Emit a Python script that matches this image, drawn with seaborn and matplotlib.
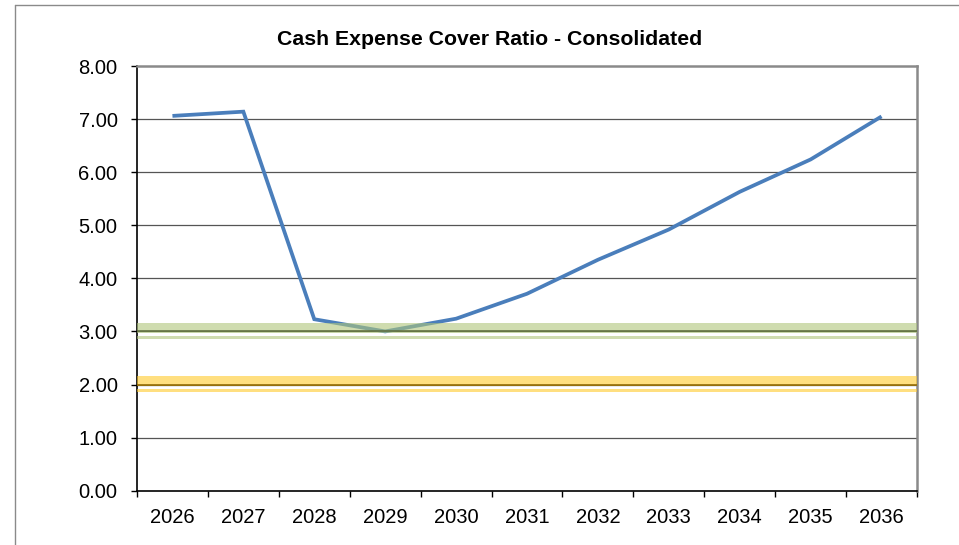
import matplotlib
matplotlib.use("Agg")
import matplotlib.pyplot as plt
from matplotlib.lines import Line2D
from matplotlib.ticker import FixedLocator, NullFormatter
import seaborn as sns
import pandas as pd

years = [2026, 2027, 2028, 2029, 2030, 2031, 2032, 2033, 2034, 2035, 2036]
ratio = [7.06, 7.14, 3.23, 3.00, 3.24, 3.71, 4.35, 4.92, 5.63, 6.24, 7.05]
y_ticks = [0, 1, 2, 3, 4, 5, 6, 7, 8]
title = "Cash Expense Cover Ratio - Consolidated"
green_target = 3.0
yellow_target = 2.0

sns.set_style("white")
plt.rcParams["font.family"] = ["Liberation Sans", "DejaVu Sans"]
plt.rcParams["text.color"] = "black"
plt.rcParams["xtick.color"] = "black"
plt.rcParams["ytick.color"] = "black"

df = pd.DataFrame({"year": years, "ratio": ratio})

fig = plt.figure(figsize=(9.59, 5.45), dpi=100)
ax = fig.add_axes([137 / 959, 1 - 490.7 / 545, (917 - 137) / 959, (490.7 - 66) / 545])

sns.lineplot(data=df, x="year", y="ratio", ax=ax, color="#4a7ebb", linewidth=2.7,
             zorder=3, solid_capstyle="butt", solid_joinstyle="miter")

# horizontal gridlines
for v in y_ticks[1:-1]:
    ax.axhline(v, color="#555555", linewidth=0.9, zorder=1)

# target bands
ax.axhspan(green_target - 0.025, green_target + 0.16, color="#afc67b", alpha=0.6, lw=0, zorder=4)
ax.axhspan(green_target - 0.14, green_target - 0.08, color="#afc67b", alpha=0.6, lw=0, zorder=4)
ax.axhline(green_target, color="#5b6b3a", linewidth=1.1, zorder=5)

ax.axhspan(yellow_target - 0.025, yellow_target + 0.16, color="#ffca2b", alpha=0.6, lw=0, zorder=4)
ax.axhspan(yellow_target - 0.14, yellow_target - 0.08, color="#ffca2b", alpha=0.6, lw=0, zorder=4)
ax.axhline(yellow_target, color="#8c6400", linewidth=1.1, zorder=5)

ax.set_xlim(years[0] - 0.5, years[-1] + 0.5)
ax.set_ylim(0, 8)
ax.set_yticks(y_ticks)
ax.set_yticklabels([f"{v:.2f}" for v in y_ticks])
ax.xaxis.set_major_locator(FixedLocator([y - 0.5 for y in years] + [years[-1] + 0.5]))
ax.xaxis.set_major_formatter(NullFormatter())
ax.xaxis.set_minor_locator(FixedLocator(years))
ax.set_xticklabels([str(y) for y in years], minor=True)
ax.tick_params(axis="x", which="major", direction="out", length=4.5, width=1.0, color="black", bottom=True)
ax.tick_params(axis="x", which="minor", length=0, labelsize=14.5, pad=12.5, bottom=True,
               labelcolor="black")
ax.tick_params(axis="y", which="major", direction="out", length=4, width=1.0, color="black",
               labelsize=14.5, pad=10, left=True, labelcolor="black")
ax.set_xlabel("")
ax.set_ylabel("")

for side in ["left", "bottom"]:
    ax.spines[side].set_color("black")
    ax.spines[side].set_linewidth(1.2)
for side in ["top", "right"]:
    ax.spines[side].set_color("#8a8a8a")
    ax.spines[side].set_linewidth(1.8)

fig.text(490 / 959, 1 - 39 / 545, title, ha="center", va="center",
         fontsize=15.3, fontweight="bold", color="black")

# outer chart border
fig.add_artist(Line2D([14.5 / 959, 14.5 / 959], [0, 1 - 5 / 545], transform=fig.transFigure,
                      color="#8a8a8a", linewidth=1.0))
fig.add_artist(Line2D([14.5 / 959, 1], [1 - 5 / 545, 1 - 5 / 545], transform=fig.transFigure,
                      color="#8a8a8a", linewidth=1.0))

fig.savefig("out.png", dpi=100)
